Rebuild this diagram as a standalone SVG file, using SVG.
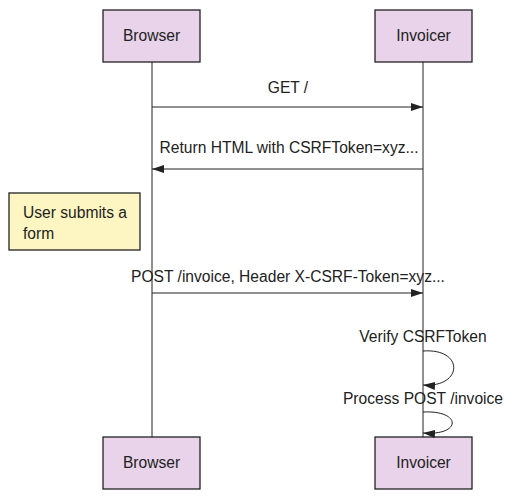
<svg xmlns="http://www.w3.org/2000/svg" width="515" height="497" viewBox="0 0 515 497">
<style>
text{font-family:"Liberation Sans",Arial,sans-serif;font-size:15.6px;fill:#222;text-anchor:middle}
.actor{fill:#e8d3ea;stroke:#222;stroke-width:1.3}
.note{fill:#fdf6c3;stroke:#222;stroke-width:1.3}
.life{stroke:#222;stroke-width:1}
.msg{stroke:#222;stroke-width:1;fill:none}
</style>
<defs>
<marker id="ah" markerWidth="12" markerHeight="8" refX="12" refY="4" orient="auto" markerUnits="userSpaceOnUse">
<path d="M0,0 L12,4 L0,8 z" fill="#222"/>
</marker>
</defs>
<g id="lifelines">
<line class="life" x1="152" y1="62" x2="152" y2="437"/>
<line class="life" x1="423" y1="62" x2="423" y2="437"/>
</g>
<g id="browser-top"><rect class="actor" x="103" y="10" width="97" height="52"/><text x="151.5" y="41">Browser</text></g>
<g id="invoicer-top"><rect class="actor" x="375" y="10" width="97" height="52"/><text x="423.5" y="41">Invoicer</text></g>
<g id="browser-bottom"><rect class="actor" x="103" y="437" width="97" height="52"/><text x="151.5" y="468">Browser</text></g>
<g id="invoicer-bottom"><rect class="actor" x="375" y="437" width="97" height="52"/><text x="423.5" y="468">Invoicer</text></g>
<g id="note"><rect class="note" x="9" y="193" width="131" height="57"/>
<text x="23" y="218" style="text-anchor:start">User submits a</text>
<text x="23" y="239" style="text-anchor:start">form</text></g>
<g id="connectors">
<line class="msg" x1="152" y1="107" x2="423" y2="107" marker-end="url(#ah)"/>
<text x="288" y="93">GET /</text>
<line class="msg" x1="423" y1="169" x2="152" y2="169" marker-end="url(#ah)"/>
<text x="289" y="153">Return HTML with CSRFToken=xyz...</text>
<line class="msg" x1="152" y1="293" x2="423" y2="293" marker-end="url(#ah)"/>
<text x="288" y="282">POST /invoice, Header X-CSRF-Token=xyz...</text>
<text x="423" y="342">Verify CSRFToken</text>
<path class="msg" d="M423,351 C465,348 463,388 423,385" marker-end="url(#ah)"/>
<text x="423" y="404">Process POST /invoice</text>
<path class="msg" d="M423,412 C462,410 462,436 423,433" marker-end="url(#ah)"/>
</g>
</svg>
